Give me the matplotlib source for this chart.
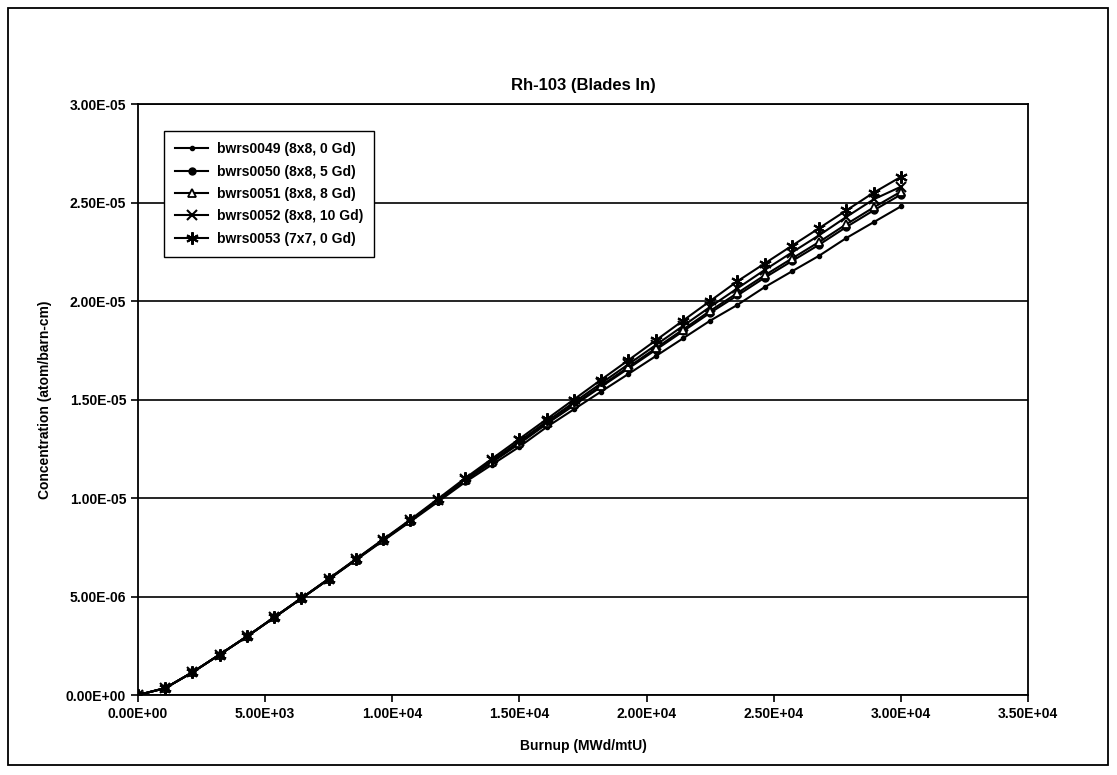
import matplotlib
matplotlib.use("Agg")
import matplotlib.pyplot as plt
from matplotlib.patches import Rectangle
from matplotlib.ticker import FuncFormatter

plt.rcParams['font.family'] = ['Liberation Sans', 'DejaVu Sans']
plt.rcParams['font.weight'] = 'bold'

# burnup steps (MWd/mtU)
burnup = [0, 1070, 2140, 3210, 4290, 5360, 6430, 7500, 8570, 9640, 10710,
          11790, 12860, 13930, 15000, 16070, 17140, 18210, 19290, 20360,
          21430, 22500, 23570, 24640, 25710, 26790, 27860, 28930, 30000]

# Rh-103 concentration, units of 1e-6 atom/barn-cm
bwrs0049 = [0, 0.35, 1.15, 2.05, 2.97, 3.93, 4.90, 5.87, 6.85, 7.83, 8.80,
            9.80, 10.8, 11.7, 12.6, 13.6, 14.5, 15.4, 16.3, 17.2, 18.1,
            19.0, 19.8, 20.7, 21.5, 22.3, 23.2, 24.0, 24.8]
bwrs0050 = [0, 0.35, 1.15, 2.05, 2.97, 3.94, 4.91, 5.88, 6.87, 7.86, 8.84,
            9.86, 10.88, 11.82, 12.76, 13.76, 14.70, 15.64, 16.58, 17.52, 18.46,
            19.40, 20.28, 21.18, 22.02, 22.86, 23.76, 24.60, 25.40]
bwrs0051 = [0, 0.35, 1.15, 2.05, 2.975, 3.94, 4.91, 5.885, 6.875, 7.865, 8.85,
            9.875, 10.9, 11.85, 12.8, 13.8, 14.75, 15.7, 16.65, 17.6, 18.55,
            19.5, 20.4, 21.3, 22.15, 23.0, 23.9, 24.75, 25.55]
bwrs0052 = [0, 0.35, 1.15, 2.05, 2.977, 3.944, 4.914, 5.89, 6.885, 7.88, 8.87,
            9.905, 10.94, 11.91, 12.88, 13.88, 14.85, 15.82, 16.79, 17.76, 18.73,
            19.7, 20.64, 21.57, 22.46, 23.34, 24.27, 25.16, 25.8]
bwrs0053 = [0, 0.35, 1.15, 2.05, 2.98, 3.95, 4.92, 5.90, 6.90, 7.90, 8.90,
            9.95, 11.0, 12.0, 13.0, 14.0, 15.0, 16.0, 17.0, 18.0, 19.0,
            20.0, 21.0, 21.9, 22.8, 23.7, 24.6, 25.5, 26.3]

labels = ['bwrs0049 (8x8, 0 Gd)', 'bwrs0050 (8x8, 5 Gd)', 'bwrs0051 (8x8, 8 Gd)',
          'bwrs0052 (8x8, 10 Gd)', 'bwrs0053 (7x7, 0 Gd)']

fig = plt.figure(figsize=(11.17, 7.75), dpi=100)
ax = fig.add_axes([0.1235, 0.1032, 0.7968, 0.7626])

series = [bwrs0049, bwrs0050, bwrs0051, bwrs0052, bwrs0053]
styles = [
    dict(marker='o', markersize=3, markerfacecolor='black'),
    dict(marker='o', markersize=5, markerfacecolor='black'),
    dict(marker='^', markersize=6, markerfacecolor='white', markeredgewidth=1.3),
    dict(marker='x', markersize=7, markeredgewidth=1.5),
    dict(marker=(6, 2, 0), markersize=9, markeredgewidth=1.5),
]
for vals, lab, st in zip(series, labels, styles):
    ax.plot(burnup, [v * 1e-6 for v in vals], color='black', lw=1.5,
            markeredgecolor='black', label=lab, **st)

ax.set_xlim(0, 35000)
ax.set_ylim(0, 3.0e-5)
ax.set_xticks([i * 5000 for i in range(8)])
ax.set_yticks([i * 5e-6 for i in range(7)])
ax.xaxis.set_major_formatter(FuncFormatter(lambda v, p: '%.2E' % v))
ax.yaxis.set_major_formatter(FuncFormatter(lambda v, p: '%.2E' % v))
ax.tick_params(direction='out', length=5, width=1.2, labelsize=10, color='black')
for t in ax.get_xticklabels() + ax.get_yticklabels():
    t.set_fontweight('bold')

ax.yaxis.grid(True, color='black', lw=1.2)
ax.set_axisbelow(True)
for s in ax.spines.values():
    s.set_linewidth(1.3)

ax.set_title('Rh-103 (Blades In)', fontsize=12, fontweight='bold', pad=10)
ax.set_xlabel('Burnup (MWd/mtU)', fontsize=10, fontweight='bold', labelpad=13)
ax.set_ylabel('Concentration (atom/barn-cm)', fontsize=10, fontweight='bold', labelpad=10)

leg = ax.legend(loc='upper left', bbox_to_anchor=(0.029, 0.954), borderaxespad=0,
                fancybox=False, edgecolor='black', framealpha=1,
                prop={'size': 10, 'weight': 'bold'}, handlelength=2.4,
                handletextpad=0.6, labelspacing=0.6, borderpad=0.8)
leg.get_frame().set_linewidth(1.0)

fig.patches.append(Rectangle((8 / 1117, 10 / 775), 1100 / 1117, 757 / 775,
                             transform=fig.transFigure, fill=False,
                             edgecolor='black', lw=1.3))

fig.savefig('out.png', dpi=100)
